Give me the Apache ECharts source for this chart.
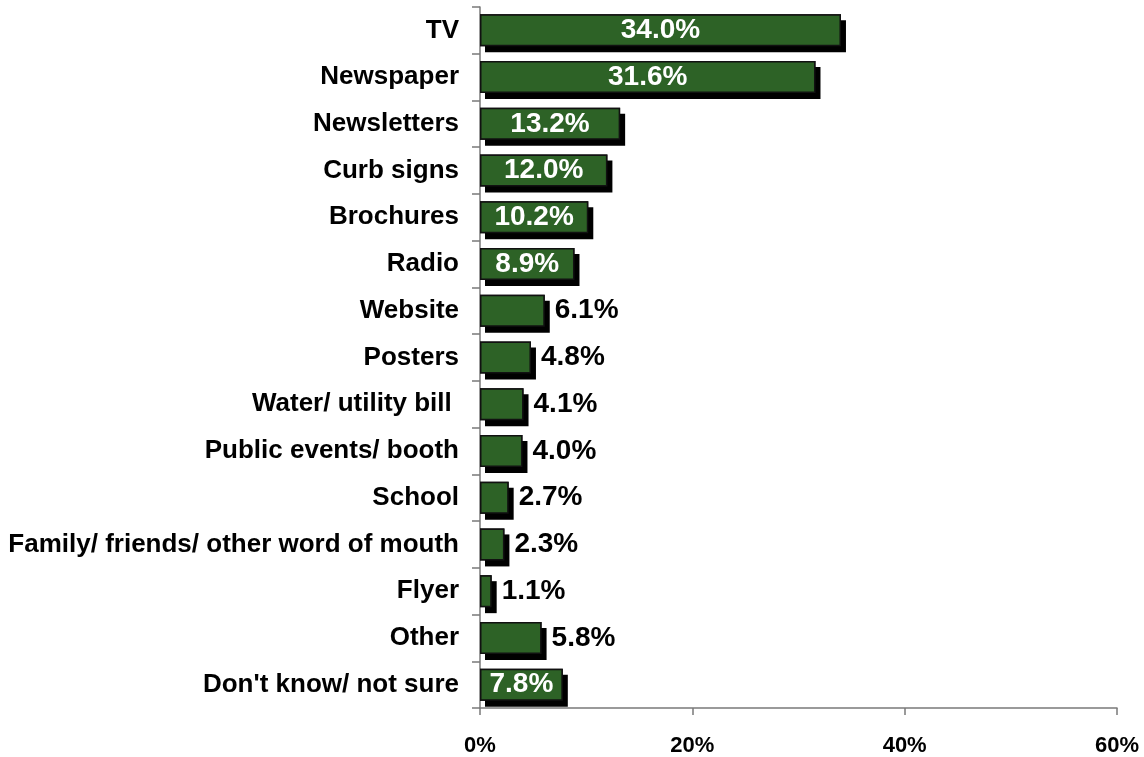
<!DOCTYPE html>
<html>
<head>
<meta charset="utf-8">
<script src="https://cdn.jsdelivr.net/npm/echarts@6/dist/echarts.min.js"></script>
<style>
  html, body { margin: 0; padding: 0; background: #fff; }
  #chart { width: 1144px; height: 757px; }
</style>
</head>
<body>
<div id="chart"></div>
<script>
// Sources where respondents heard about it, share of respondents (%)
const categories = [
  'TV', 'Newspaper', 'Newsletters', 'Curb signs', 'Brochures', 'Radio',
  'Website', 'Posters', 'Water/ utility bill ', 'Public events/ booth',
  'School', 'Family/ friends/ other word of mouth', 'Flyer', 'Other',
  "Don't know/ not sure"
];
const shares = [34.0, 31.6, 13.2, 12.0, 10.2, 8.9, 6.1, 4.8, 4.1, 4.0, 2.7, 2.3, 1.1, 5.8, 7.8];
const xTicks = [0, 20, 40, 60];

const FONT = 'Arial, "Liberation Sans", sans-serif';
const BAR_GREEN = '#2d6226';
const BAR_WIDTH = 32;

// Long bars carry a white label centred inside; short bars get a black one beside them
const barData = shares.map(v => {
  const inside = v >= 7;
  return {
    value: v,
    label: inside
      ? { position: 'inside', color: '#fff' }
      : { position: 'right', color: '#000', distance: 10 }
  };
});

const chart = echarts.init(document.getElementById('chart'));
chart.setOption({
  animation: false,
  backgroundColor: '#fff',
  grid: { left: 480, right: 27, top: 7, bottom: 47, containLabel: false },
  xAxis: {
    type: 'value',
    min: xTicks[0],
    max: xTicks[xTicks.length - 1],
    interval: xTicks[1] - xTicks[0],
    axisLine: { show: true, lineStyle: { color: '#7a7a7a', width: 1.5 } },
    axisTick: { show: true, length: 7, lineStyle: { color: '#7a7a7a', width: 1.5 } },
    splitLine: { show: false },
    axisLabel: {
      margin: 27,
      color: '#000',
      fontFamily: FONT,
      fontWeight: 'bold',
      fontSize: 22,
      formatter: v => v + '%'
    }
  },
  yAxis: {
    type: 'category',
    inverse: true,
    data: categories,
    axisLine: { show: true, lineStyle: { color: '#7a7a7a', width: 1.5 } },
    axisTick: { show: true, length: 8, lineStyle: { color: '#7a7a7a', width: 1.5 } },
    axisLabel: {
      margin: 21,
      color: '#000',
      fontFamily: FONT,
      fontWeight: 'bold',
      fontSize: 26
    }
  },
  series: [
    {
      // solid drop shadow underneath each bar
      type: 'bar',
      data: shares,
      barWidth: BAR_WIDTH,
      silent: true,
      z: 1,
      itemStyle: {
        color: '#000',
        shadowColor: '#000',
        shadowBlur: 0,
        shadowOffsetX: 5,
        shadowOffsetY: 6
      }
    },
    {
      // the green bars with outline and value labels
      type: 'bar',
      data: barData,
      barWidth: BAR_WIDTH,
      barGap: '-100%',
      z: 2,
      itemStyle: {
        color: BAR_GREEN,
        borderColor: '#111',
        borderWidth: 1.5
      },
      label: {
        show: true,
        fontFamily: FONT,
        fontWeight: 'bold',
        fontSize: 28,
        formatter: p => p.value.toFixed(1) + '%'
      }
    }
  ]
});
</script>
</body>
</html>
